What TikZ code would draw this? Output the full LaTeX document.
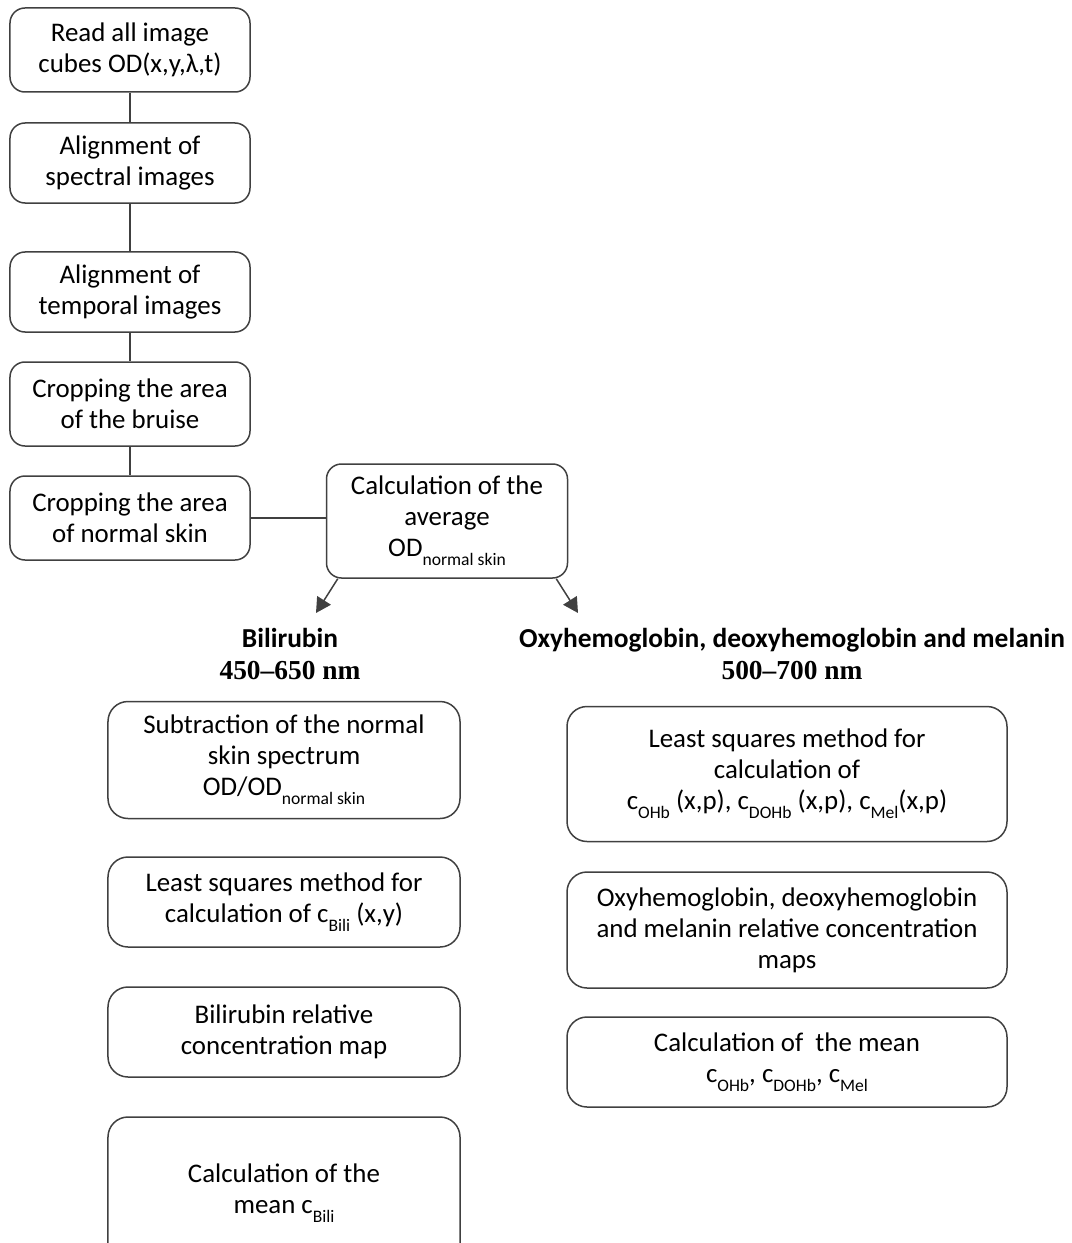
\documentclass[tikz,border=0pt]{standalone}
\usepackage{fontspec}
\setmainfont{Carlito}
\newfontfamily\headserif[Ligatures=TeX]{Liberation Serif}
\usepackage{tikz}
\usetikzlibrary{arrows.meta,calc,positioning}
\definecolor{edgegray}{RGB}{64,64,64}
\newcommand{\lowtxt}[1]{\raisebox{-5pt}{\fontsize{10}{10}\selectfont #1}}

\begin{document}
\begin{tikzpicture}[
  x=0.2mm, y=-0.2mm,
  font=\fontsize{15.3}{17.6}\selectfont,
  stepbox/.style={draw=edgegray, line width=0.3mm, rounded corners=3mm, align=center, minimum width=48mm, minimum height=16.4mm, inner sep=1mm},
  colbox/.style={stepbox, rounded corners=4mm, minimum height=18mm},
  head/.style={font=\fontsize{15.6}{18}\selectfont\bfseries, align=center},
  link/.style={edgegray, line width=0.3mm},
  arr/.style={link, -{Triangle[length=3mm, width=3.2mm]}}
]
\useasboundingbox (0,0) rectangle (1071,1243);
% preprocessing chain
\node[stepbox, minimum height=16.8mm] (read) at (130,50) {Read all image\\cubes OD(x,y,λ,t)};
\node[stepbox, minimum height=16mm] (alspec) at (130,163) {Alignment of\\spectral images};
\node[stepbox, minimum height=16mm] (altemp) at (130,292) {Alignment of\\temporal images};
\node[stepbox, minimum height=16.8mm] (cropbr) at (130,404) {Cropping the area\\of the bruise};
\node[stepbox, minimum height=16.8mm] (cropsk) at (130,518) {Cropping the area\\of normal skin};
\node[stepbox, minimum width=48.2mm, minimum height=22.8mm] (avg) at (447,521) {Calculation of the\\average\\OD\lowtxt{normal skin}};
\draw[link] (read) -- (alspec);
\draw[link] (alspec) -- (altemp);
\draw[link] (altemp) -- (cropbr);
\draw[link] (cropbr) -- (cropsk);
\draw[link] (cropsk.east) -- (cropsk.east -| avg.west);
% two branches
\coordinate (bilitip) at (316,613);
\coordinate (oxytip) at (578,613);
\draw[arr] ($(avg.south west)+(12,0)$) -- (bilitip);
\draw[arr] ($(avg.south east)+(-12,0)$) -- (oxytip);
\node[head] (bilihead) at (290,654) {Bilirubin\\{\headserif 450--650 nm}};
\node[head] (oxyhead) at (792,654) {Oxyhemoglobin, deoxyhemoglobin and melanin\\{\headserif 500--700 nm}};
% bilirubin column
\node[colbox, minimum width=70.4mm, minimum height=23.4mm] (subtr) at (284,760) {Subtraction of the normal\\skin spectrum\\OD/OD\lowtxt{normal skin}};
\node[colbox, minimum width=70.4mm] (lsbili) at (284,902) {Least squares method for\\calculation of c\lowtxt{Bili} (x,y)};
\node[colbox, minimum width=70.4mm] (mapbili) at (284,1032) {Bilirubin relative\\concentration map};
\node[colbox, minimum width=70.4mm, minimum height=30.4mm] (meanbili) at (284,1193) {Calculation of the\\mean c\lowtxt{Bili}};
% oxy/deoxy/melanin column
\node[colbox, minimum width=88mm, minimum height=27mm] (lsoxy) at (787,774) {Least squares method for\\calculation of\\c\lowtxt{OHb} (x,p), c\lowtxt{DOHb} (x,p), c\lowtxt{Mel}(x,p)};
\node[colbox, minimum width=88mm, minimum height=23.2mm] (mapoxy) at (787,930) {Oxyhemoglobin, deoxyhemoglobin\\and melanin relative concentration\\maps};
\node[colbox, minimum width=88mm] (meanoxy) at (787,1062) {Calculation of \ the mean\\c\lowtxt{OHb}, c\lowtxt{DOHb}, c\lowtxt{Mel}};
\end{tikzpicture}
\end{document}
